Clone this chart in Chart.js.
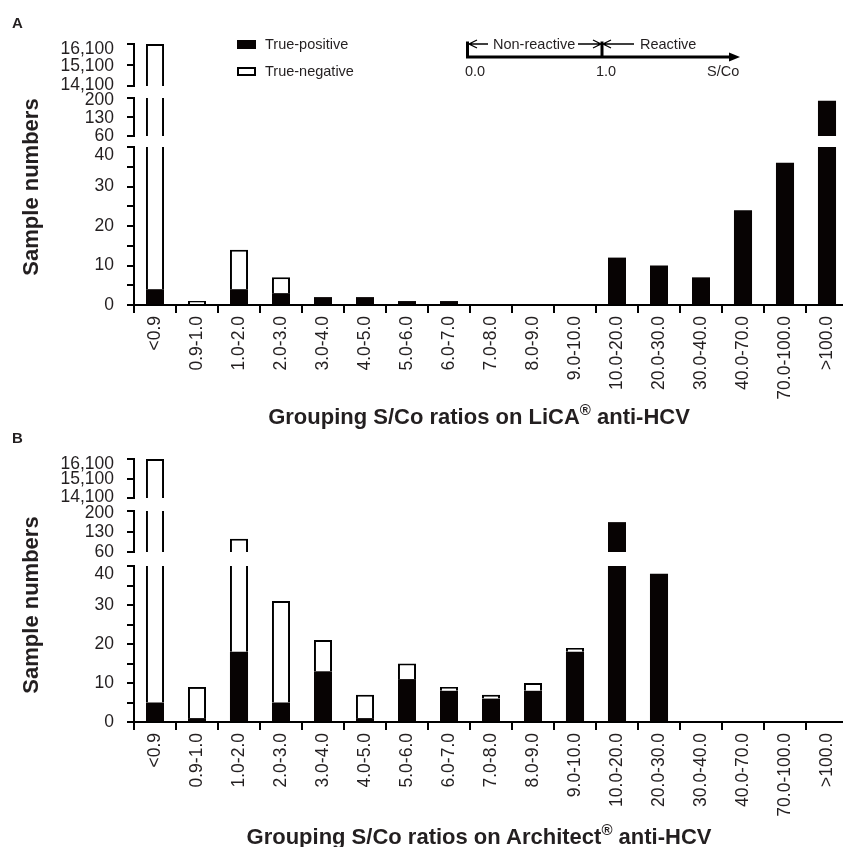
<!DOCTYPE html>
<html lang="en">
<head>
<meta charset="UTF-8">
<title>Grouping S/Co ratios - LiCA vs Architect anti-HCV</title>
<script src="https://cdn.jsdelivr.net/npm/chart.js"></script>
<style>
  html, body { margin: 0; padding: 0; background: #fff; overflow: hidden; }
  body { width: 843px; height: 847px; position: relative; }
  canvas { position: absolute; left: 0; }
  #overlay { position: absolute; left: 0; top: 0; pointer-events: none; }
  #overlay text { font-family: "Liberation Sans", Arial, sans-serif; fill: #231f20; }
</style>
</head>
<body>
<canvas id="chartA" width="860" height="400" style="top:0px"></canvas>
<canvas id="chartB" width="860" height="402" style="top:415px"></canvas>

<svg id="overlay" width="843" height="847" xmlns="http://www.w3.org/2000/svg">
  <!-- panel letters -->
  <text x="12" y="28" font-size="15" font-weight="bold">A</text>
  <text x="12" y="443" font-size="15" font-weight="bold">B</text>

  <!-- legend, filled from the dataset labels below -->
  <rect x="237" y="40" width="19" height="9" fill="#070303"/>
  <rect x="238" y="68" width="17" height="7" fill="#fff" stroke="#000" stroke-width="2"/>
  <text id="leg0" x="265" y="49" font-size="14.5"></text>
  <text id="leg1" x="265" y="76" font-size="14.5"></text>

  <!-- S/Co cut-off sketch -->
  <g stroke="#000" fill="none">
    <line x1="466" y1="57" x2="731" y2="57" stroke-width="3"/>
    <line x1="467.5" y1="41.5" x2="467.5" y2="58" stroke-width="3"/>
    <line x1="602" y1="41.5" x2="602" y2="58" stroke-width="3"/>
    <path d="M469 44 H488 M477 40 L469 44 L477 48" stroke-width="1.3"/>
    <path d="M578 44 H601 M593 40 L601 44 L593 48" stroke-width="1.3"/>
    <path d="M603 44 H634 M611 40 L603 44 L611 48" stroke-width="1.3"/>
  </g>
  <path d="M729 52.5 L740 57 L729 61.5 Z" fill="#000"/>
  <text x="493" y="49" font-size="14.5">Non-reactive</text>
  <text x="640" y="49" font-size="14.5">Reactive</text>
  <text x="465" y="76" font-size="14.5">0.0</text>
  <text x="596" y="76" font-size="14.5">1.0</text>
  <text x="707" y="76" font-size="14.5">S/Co</text>

  <!-- axis titles -->
  <text x="38" y="187" font-size="22" font-weight="bold" text-anchor="middle" transform="rotate(-90 38 187)">Sample numbers</text>
  <text x="38" y="605" font-size="22" font-weight="bold" text-anchor="middle" transform="rotate(-90 38 605)">Sample numbers</text>
  <text x="479" y="424" font-size="22" font-weight="bold" text-anchor="middle">Grouping S/Co ratios on LiCA<tspan dy="-9" font-size="15">®</tspan><tspan dy="9"> anti-HCV</tspan></text>
  <text x="479" y="844" font-size="22" font-weight="bold" text-anchor="middle">Grouping S/Co ratios on Architect<tspan dy="-9" font-size="15">®</tspan><tspan dy="9"> anti-HCV</tspan></text>
</svg>

<script>
var categories = ['<0.9', '0.9-1.0', '1.0-2.0', '2.0-3.0', '3.0-4.0', '4.0-5.0', '5.0-6.0',
  '6.0-7.0', '7.0-8.0', '8.0-9.0', '9.0-10.0', '10.0-20.0', '20.0-30.0', '30.0-40.0',
  '40.0-70.0', '70.0-100.0', '>100.0'];

var seriesNames = ['True-positive', 'True-negative'];

// panel A: LiCA anti-HCV
var licaPositive = [4, 0, 4, 3, 2, 2, 1, 1, 0, 0, 0, 12, 10, 7, 24, 36, 190];
var licaNegative = [16096, 1, 10, 4, 0, 0, 0, 0, 0, 0, 0, 0, 0, 0, 0, 0, 0];

// panel B: Architect anti-HCV
var architectPositive = [5, 1, 18, 5, 13, 1, 11, 8, 6, 8, 18, 162, 38, 0, 0, 0, 0];
var architectNegative = [16095, 8, 87, 26, 8, 6, 4, 1, 1, 2, 1, 0, 0, 0, 0, 0, 0];

// broken y axis: three segments
var upperTicks = [14100, 15100, 16100];
var middleTicks = [60, 130, 200];
var lowerTicks = [0, 10, 20, 30, 40];
var lowerMinorStep = 5;

var FONT = '"Liberation Sans", Arial, sans-serif';
var INK = '#231f20';
var AXIS_W = 134;
var TICK_SIZE = 17.5;

document.getElementById('leg0').textContent = seriesNames[0];
document.getElementById('leg1').textContent = seriesNames[1];

// nudges: px to move each label off its tick (+ down) so the
// labels at the segment ends don't run into each other
function segmentAxis(values, weight, order, minorStep, nudges) {
  var all = values.slice();
  if (minorStep) {
    all = [];
    for (var v = values[0]; v <= values[values.length - 1]; v += minorStep) all.push(v);
  }
  function nudgeFor(v) {
    var i = values.indexOf(v);
    return i >= 0 && nudges ? (nudges[i] || 0) : 0;
  }
  return {
    type: 'linear', position: 'left', stack: 'broken', stackWeight: weight, weight: order,
    stacked: true,
    min: values[0], max: values[values.length - 1],
    afterBuildTicks: function (s) { s.ticks = all.map(function (v) { return { value: v }; }); },
    afterFit: function (s) { s.width = AXIS_W; },
    ticks: {
      autoSkip: false, padding: 13, color: INK,
      font: function (c) {
        var n = c.tick ? nudgeFor(c.tick.value) : 0;
        return { family: FONT, size: TICK_SIZE, lineHeight: n ? (2 * Math.abs(n)) + 'px' : 1.2 };
      },
      callback: function (v) {
        if (values.indexOf(v) < 0) return '';
        var txt = v.toLocaleString('en-US');
        var n = nudgeFor(v);
        if (!n) return txt;
        return n > 0 ? ['', txt] : [txt, ''];
      }
    },
    grid: { drawOnChartArea: false, drawTicks: true, tickLength: 7, color: '#000', lineWidth: 2 },
    border: { display: true, color: '#000', width: 2 }
  };
}

function gapAxis(weight, order) {
  return {
    type: 'linear', position: 'left', stack: 'broken', stackWeight: weight, weight: order,
    min: 0, max: 1,
    afterFit: function (s) { s.width = AXIS_W; },
    ticks: { display: false }, grid: { display: false }, border: { display: false }
  };
}

function panelDatasets(positive, negative) {
  var sets = [];
  ['yTop', 'yMid', 'yLow'].forEach(function (id) {
    sets.push({
      label: seriesNames[0], data: positive, yAxisID: id, stack: 'counts', clip: 0,
      backgroundColor: '#070303', borderWidth: 0,
      barPercentage: 0.43, categoryPercentage: 1
    });
    sets.push({
      label: seriesNames[1], data: negative, yAxisID: id, stack: 'counts', clip: 0,
      backgroundColor: '#ffffff', borderColor: '#000', borderWidth: 2,
      barPercentage: 0.43, categoryPercentage: 1
    });
  });
  return sets;
}

// weights = pixel heights of top seg, gap, middle seg, gap, lower seg
function makePanel(canvasId, positive, negative, weights) {
  var ctx = document.getElementById(canvasId).getContext('2d');
  return new Chart(ctx, {
    type: 'bar',
    data: { labels: categories, datasets: panelDatasets(positive, negative) },
    options: {
      responsive: false,
      animation: false,
      layout: { padding: { top: 44, left: 0, right: 12, bottom: 0 } },
      plugins: { legend: { display: false }, tooltip: { enabled: false } },
      scales: {
        x: {
          type: 'category', stacked: true, offset: true,
          grid: { display: true, drawOnChartArea: false, drawTicks: true, tickLength: 8,
                  color: '#000', lineWidth: 2, offset: true },
          border: { display: true, color: '#000', width: 2 },
          ticks: { autoSkip: false, minRotation: 90, maxRotation: 90, padding: 3,
                   color: INK, font: { family: FONT, size: TICK_SIZE } },
          afterFit: function (s) { s.height = 95; }
        },
        yTop: segmentAxis(upperTicks, weights[0], 5, 0, [-1, 1, 5]),
        gap1: gapAxis(weights[1], 4),
        yMid: segmentAxis(middleTicks, weights[2], 3, 0, [0, 1, 2]),
        gap2: gapAxis(weights[3], 2),
        yLow: segmentAxis(lowerTicks, weights[4], 1, lowerMinorStep, [0, 0, 0, 0, 8])
      }
    }
  });
}

var chartA = makePanel('chartA', licaPositive, licaNegative, [42, 12, 38, 11, 158]);
var chartB = makePanel('chartB', architectPositive, architectNegative, [39, 13, 41, 14, 156]);
</script>
</body>
</html>
